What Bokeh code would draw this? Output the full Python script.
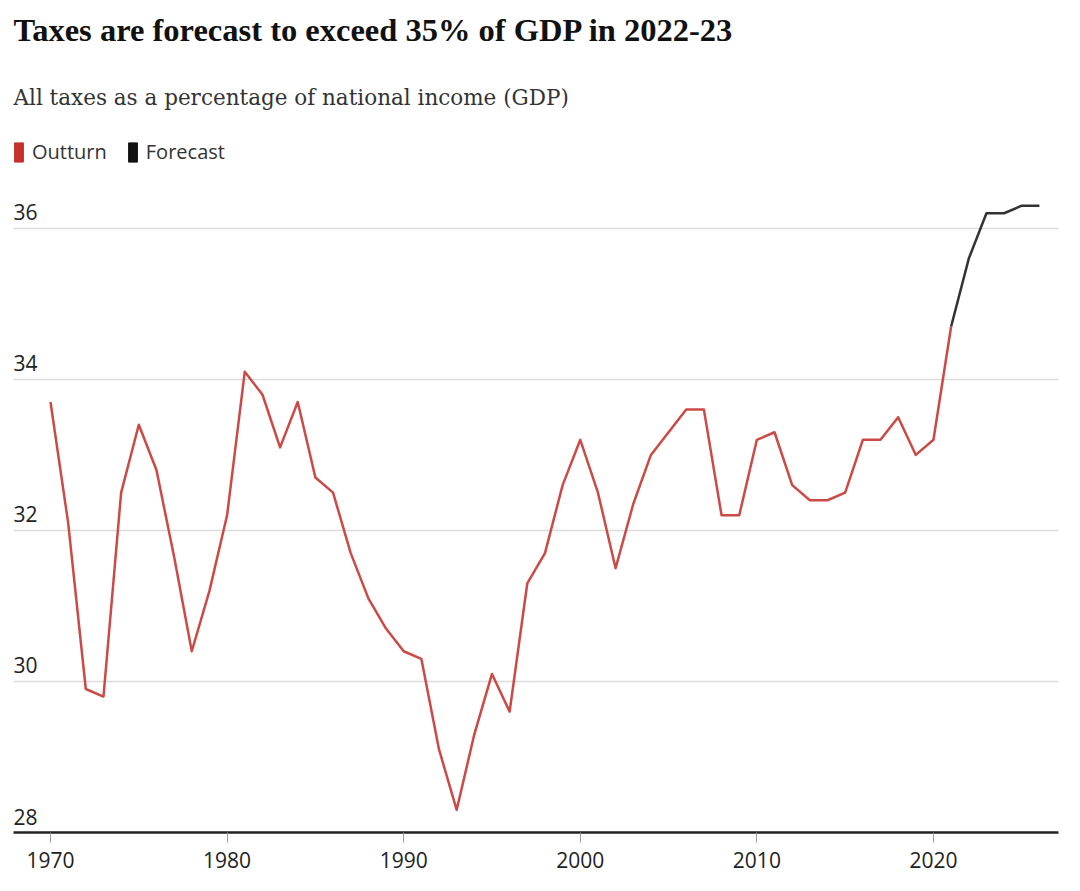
from bokeh.plotting import figure
from bokeh.models import Range1d, FixedTicker, Title, Legend, LegendItem, ColumnDataSource
from bokeh.core.properties import value
from bokeh.embed import file_html
from bokeh.resources import INLINE

# ---- data ----
outturn_years = list(range(1970, 2022))
outturn_values = [
    33.7, 32.1, 29.9, 29.8, 32.5, 33.4, 32.8, 31.65, 30.4, 31.2,
    32.2, 34.1, 33.8, 33.1, 33.7, 32.7, 32.5, 31.7, 31.1, 30.7,
    30.4, 30.3, 29.1, 28.3, 29.3, 30.1, 29.6, 31.3, 31.7, 32.6,
    33.2, 32.5, 31.5, 32.35, 33.0, 33.3, 33.6, 33.6, 32.2, 32.2,
    33.2, 33.3, 32.6, 32.4, 32.4, 32.5, 33.2, 33.2, 33.5, 33.0,
    33.2, 34.7,
]
forecast_years = [2021, 2022, 2023, 2024, 2025, 2026]
forecast_values = [34.7, 35.6, 36.2, 36.2, 36.3, 36.3]
x_tick_values = [1970, 1980, 1990, 2000, 2010, 2020]
y_tick_values = [28, 30, 32, 34, 36]
y_tick_labels = ["28", "30", "32", "34", "36"]

title_text = "Taxes are forecast to exceed 35% of GDP in 2022-23"
subtitle_text = "All taxes as a percentage of national income (GDP)"
legend_labels = ["Outturn", "Forecast"]

RED = "#cc4a45"
DARK = "#333333"
SANS = "Open Sans"

x_start, x_end = 1967.905, 2027.08
y_start, y_end = 28.0, 37.19

p = figure(width=1062, height=878, output_backend="svg", toolbar_location=None,
           x_range=Range1d(x_start, x_end), y_range=Range1d(y_start, y_end),
           min_border_left=13, min_border_right=4, min_border_top=138,
           min_border_bottom=46, title=None)
p.outline_line_color = None
p.background_fill_color = "white"
p.border_fill_color = "white"

# grid
p.xgrid.visible = False
p.ygrid.ticker = FixedTicker(ticks=y_tick_values)
p.ygrid.grid_line_color = "#dcdcdc"
p.ygrid.grid_line_width = 1.5

# axes
p.yaxis.visible = False
xa = p.xaxis[0]
xa.ticker = FixedTicker(ticks=x_tick_values)
xa.axis_line_color = "#222222"
xa.axis_line_width = 2.5
xa.major_tick_line_color = "#999999"
xa.major_tick_line_width = 1
xa.major_tick_out = 10
xa.major_tick_in = 0
xa.minor_tick_line_color = None
xa.major_label_text_font = SANS
xa.major_label_text_font_size = "21px"
xa.major_label_text_color = "#222222"
xa.major_label_standoff = 9

# y tick labels inside plot
ysrc = ColumnDataSource(dict(x=[x_start] * len(y_tick_values), y=y_tick_values, t=y_tick_labels))
p.text(x="x", y="y", text="t", source=ysrc, text_font=value(SANS), text_font_size="21px",
       text_color="#222222", text_baseline="bottom", text_align="left", x_offset=0, y_offset=-8)

# lines
r_out = p.line(outturn_years, outturn_values, line_color=RED, line_width=2.5, line_join="round")
r_fc = p.line(forecast_years, forecast_values, line_color=DARK, line_width=2.5, line_join="round")

# legend swatches (renderers kept outside the visible range)
sw_out = p.rect(x=[x_start - 50], y=[y_start - 50], width=1, height=1,
                fill_color="#c8302c", line_color="#c8302c")
sw_fc = p.rect(x=[x_start - 50], y=[y_start - 50], width=1, height=1,
               fill_color="#111111", line_color="#111111")
legend = Legend(items=[LegendItem(label=legend_labels[0], renderers=[sw_out]),
                       LegendItem(label=legend_labels[1], renderers=[sw_fc])],
                orientation="horizontal", location="top_left",
                glyph_width=11, glyph_height=24, label_standoff=8, spacing=20,
                padding=0, margin=0, border_line_color=None, background_fill_alpha=0,
                label_text_font=SANS, label_text_font_size="20px", label_text_color="#333333")
p.add_layout(legend, "center")

sub = Title(text=subtitle_text, text_font="DejaVu Serif", text_font_size="21.5px",
            text_font_style="normal", text_color="#333333", align="left", standoff=58)
p.add_layout(sub, "above")
ttl = Title(text=title_text, text_font="Liberation Serif", text_font_size="32.5px",
            text_font_style="bold", text_color="#111111", align="left", standoff=11)
p.add_layout(ttl, "above")

open("out.html", "w").write(file_html(p, INLINE))
